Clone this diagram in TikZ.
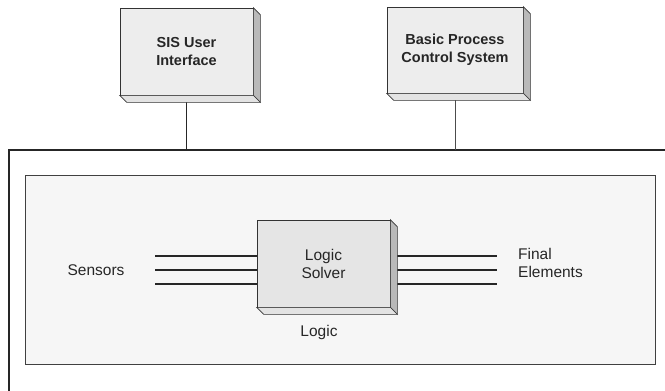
\documentclass[tikz,border=0pt]{standalone}
\usepackage{fontspec}
\setmainfont{Liberation Sans}
\usetikzlibrary{calc}

% depth of the raised boxes: right side and bottom face
\newcommand{\boxside}[1]{%
	\filldraw[fill=gray!55,draw=black!80,line width=0.7pt] (#1.north east) -- ++(7,7) -- ([shift={(7,7)}]#1.south east) -- (#1.south east) -- cycle;
	\filldraw[fill=gray!22,draw=black!80,line width=0.7pt] (#1.south west) -- ++(7,7) -- ([shift={(7,7)}]#1.south east) -- (#1.south east) -- cycle;
}

\begin{document}
\begin{tikzpicture}[x=1pt,y=-1pt]
				\tikzstyle{every node}=[text=black!85]
				\tikzstyle{topbox}=[draw=black!80,line width=0.7pt,fill=gray!14,
					minimum width=133pt,minimum height=87pt,align=center,
					font=\fontsize{14.5}{18}\selectfont\bfseries]
				\tikzstyle{solverbox}=[topbox,fill=gray!20,font=\fontsize{15.5}{18}\selectfont]
				\tikzstyle{label}=[font=\fontsize{15.5}{18}\selectfont,align=left,inner sep=0pt]
				\tikzstyle{wire}=[line width=1.3pt,black!85]
				\useasboundingbox (0,0) rectangle (665,391);
				% top row
				\node[topbox] (sis) at (186.5,51.5) {SIS User\\Interface};
				\node[topbox,minimum width=136pt,minimum height=86pt] (bpcs) at (455,50) {Basic Process\\Control System};
				% bus and frame
				\coordinate (frametl) at (9,150);
				\coordinate (frametr) at (665,150);
				\coordinate (framebl) at (9,391);
				\draw[wire] (frametr) -- (frametl) -- (framebl);
				\draw[line width=1pt,black!85] (sis.south) -- (sis.south |- frametl);
				\draw[line width=0.8pt,black!70] (bpcs.south) -- (bpcs.south |- frametl);
				\boxside{sis}
				\boxside{bpcs}
				% safety system
				\node[draw=black!75,line width=1pt,fill=gray!7,minimum width=630pt,minimum height=189pt] (sys) at (340,269.5) {};
				\node[solverbox] (solver) at (323.5,263.5) {Logic\\Solver};
				\node[label] (sensors) at (96,270) {Sensors};
				\node[label,anchor=west] (final) at (518,263) {Final\\Elements};
				\node[label] (logic) at (319,332) {Logic};
				\foreach \i/\wy in {1/256,2/270,3/284} {
					\coordinate (in\i) at (155,\wy);
					\coordinate (out\i) at (497,\wy);
					\draw[wire] (in\i) -- (in\i -| solver.west);
					\draw[wire] (solver.east |- out\i) -- (out\i);
				}
				\boxside{solver}
\end{tikzpicture}
\end{document}
